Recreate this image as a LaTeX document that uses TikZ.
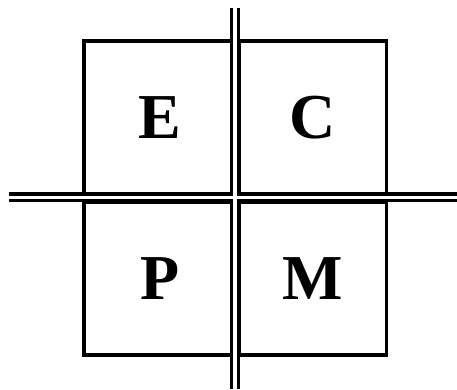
\documentclass[tikz,border=0pt]{standalone}
\usepackage{fontspec}
\setmainfont{Liberation Serif}
\tikzset{
  every picture/.style={line width=3.3pt},
  cell/.style={draw=black, minimum width=147.5pt, minimum height=153pt, inner sep=0pt,
    font=\fontsize{64}{64}\selectfont\bfseries},
  railout/.style={draw=black, line width=10pt},
  railin/.style={draw=white, line width=3.4pt},
}
\begin{document}
\begin{tikzpicture}[x=1pt, y=-1pt]
  \useasboundingbox (0,0) rectangle (457,389);
  % the four cells
  \node[cell] (E) at (157.75,117.5) {\hspace*{5pt}E};
  \node[cell] (C) at (312.75,117.5) {C};
  \node[cell] (P) at (157.75,278.5) {\hspace*{4pt}P};
  \node[cell] (M) at (312.75,278.5) {M};
  % ends of the double rails
  \coordinate (vtop) at (235,8);
  \coordinate (vbot) at (235,389);
  \coordinate (hleft) at (9,197.25);
  \coordinate (hright) at (457,197.25);
  \draw[railout] (vtop) -- (vbot);
  \draw[railout] (hleft) -- (hright);
  \draw[railin] (vtop) -- (vbot);
  \draw[railin] (hleft) -- (hright);
\end{tikzpicture}
\end{document}
